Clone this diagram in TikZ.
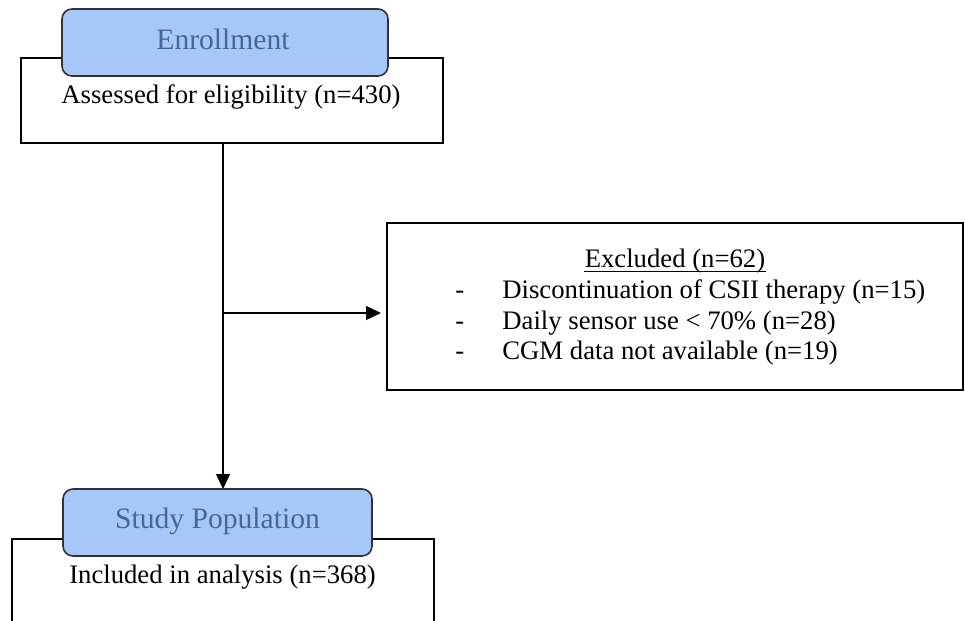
\documentclass[tikz,border=0pt]{standalone}
\usepackage{fontspec}
\setmainfont{Liberation Serif}
\usetikzlibrary{arrows.meta}
\definecolor{hdrfill}{RGB}{168,199,249}
\definecolor{hdrtext}{RGB}{68,104,148}
\definecolor{hdrline}{RGB}{50,50,50}
\tikzset{
  box/.style={draw=black, line width=0.7pt, inner sep=0pt},
  hdr/.style={draw=hdrline, fill=hdrfill, line width=0.8pt, rounded corners=5pt, inner sep=0pt, minimum width=#1, minimum height=33.5pt},
  hdrlbl/.style={text=hdrtext, font=\fontsize{14.8pt}{17pt}\selectfont, anchor=base, inner sep=0pt},
  lbl/.style={font=\fontsize{13.35pt}{16pt}\selectfont, inner sep=0pt},
  conn/.style={line width=0.7pt, -{Triangle[length=7.5pt,width=7pt]}},
  uline/.style={line width=0.5pt}
}
\begin{document}
\begin{tikzpicture}[x=0.5pt,y=-0.5pt]
\useasboundingbox (0,0) rectangle (965,621);
% Enrollment
\node[box, minimum width=211pt, minimum height=42.5pt] (assess) at (232,100.5) {};
\node[hdr=163pt] (enroll) at (225,42.5) {};
\node[hdrlbl] (enrolltxt) at (223,49) {Enrollment};
\node[lbl, anchor=base] (assesstxt) at (231,103) {Assessed for eligibility (n=430)};
% Excluded
\node[box, minimum width=288pt, minimum height=83.5pt] (excl) at (675,306.5) {};
\node[lbl, anchor=base] (excltitle) at (675,267) {Excluded (n=62)};
\draw[uline] ([yshift=-2.4pt]excltitle.base west) -- ([yshift=-2.4pt]excltitle.base east);
\node[lbl, anchor=base west] (d1) at (455,298) {-};
\node[lbl, anchor=base west] (i1) at (502,298) {Discontinuation of CSII therapy (n=15)};
\node[lbl, anchor=base west] (d2) at (455,329) {-};
\node[lbl, anchor=base west] (i2) at (502,329) {Daily sensor use < 70\% (n=28)};
\node[lbl, anchor=base west] (d3) at (455,359) {-};
\node[lbl, anchor=base west] (i3) at (502,359) {CGM data not available (n=19)};
% Study population
\node[box, minimum width=211pt, minimum height=60pt] (incl) at (223,599) {};
\node[hdr=154.5pt] (study) at (217.5,522.5) {};
\node[hdrlbl] (studytxt) at (217.5,528) {Study Population};
\node[lbl, anchor=base] (incltxt) at (222.5,583) {Included in analysis (n=368)};
% connectors
\coordinate (vtop) at (223,143);
\coordinate (vbot) at (223,489);
\coordinate (branch) at (223,313);
\coordinate (tip) at (381,313);
\draw[conn] (vtop) -- (vbot);
\draw[conn] (branch) -- (tip);
\end{tikzpicture}
\end{document}
